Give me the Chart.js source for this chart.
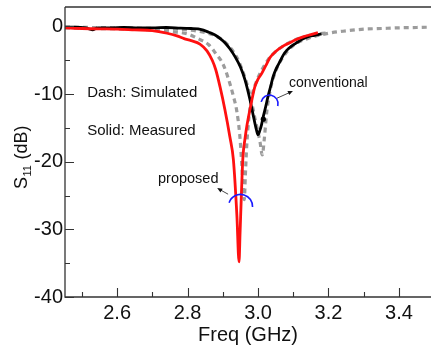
<!DOCTYPE html>
<html>
<head>
<meta charset="utf-8">
<script src="https://cdn.jsdelivr.net/npm/chart.js@4.4.1/dist/chart.umd.min.js"></script>
<style>
html,body{margin:0;padding:0;background:#fff;}
#wrap{width:431px;height:347px;}
</style>
</head>
<body>
<div id="wrap"><canvas id="c" width="431" height="347"></canvas></div>
<script>
// ---- data ----
const freqBlack = [2.452,2.48,2.51,2.53,2.545,2.58,2.62,2.66,2.70,2.74,2.78,2.81,2.83,2.845,2.86,2.878,2.892,2.906,2.92,2.935,2.95,2.963,2.977,2.989,2.996,3.0,3.005,3.01,3.015,3.022,3.028,3.036,3.043,3.052,3.062,3.072,3.082,3.095,3.113,3.128,3.142,3.16,3.18];
const s11Black  = [-0.1,-0.1,-0.2,-0.5,-0.2,-0.2,-0.15,-0.2,-0.2,-0.15,-0.25,-0.3,-0.35,-0.55,-0.85,-1.25,-1.75,-2.4,-3.3,-4.5,-6.0,-7.9,-10.8,-13.8,-15.4,-16.0,-15.4,-14.5,-13.3,-11.8,-10.4,-8.8,-7.4,-6.2,-5.2,-4.2,-3.5,-2.9,-2.3,-1.8,-1.5,-1.3,-1.1];

const freqRed = [2.452,2.5,2.55,2.6,2.65,2.7,2.742,2.77,2.79,2.81,2.835,2.855,2.87,2.88,2.892,2.906,2.92,2.93,2.94,2.946,2.949,2.953,2.957,2.963,2.968,2.977,2.991,3.0,3.011,3.022,3.034,3.05,3.071,3.09,3.11,3.13,3.15,3.17];
const s11Red  = [-0.2,-0.3,-0.35,-0.4,-0.5,-0.6,-1.0,-1.4,-1.8,-2.1,-2.6,-3.6,-5.0,-6.4,-8.9,-12.3,-16.3,-19.7,-28,-34.8,-30.5,-24.5,-19.4,-16.6,-14.8,-12.3,-8.9,-7.8,-6.9,-5.8,-4.6,-3.7,-2.9,-2.4,-1.9,-1.5,-1.2,-0.9];

const freqSimProp = [2.452,2.55,2.65,2.72,2.76,2.8,2.83,2.86,2.88,2.9,2.915,2.93,2.94,2.948,2.954,2.958,2.961,2.964,2.968,2.974,2.982,2.995,3.01,3.03,3.06,3.1,3.15,3.2];
const s11SimProp  = [-0.2,-0.3,-0.4,-0.6,-0.8,-1.1,-1.8,-2.7,-4.0,-5.5,-7.6,-10.3,-12.6,-16,-20.5,-24,-25.6,-22,-17.5,-13.5,-10.5,-8.2,-6.5,-4.8,-3.3,-2.1,-1.3,-0.9];

const freqSimConv = [2.452,2.6,2.7,2.8,2.85,2.88,2.91,2.94,2.965,2.98,2.992,3.0,3.006,3.012,3.018,3.025,3.035,3.05,3.07,3.1,3.14,3.2,3.25,3.3,3.35,3.4,3.45,3.49];
const s11SimConv  = [-0.1,-0.2,-0.3,-0.5,-0.9,-1.4,-2.5,-4.6,-7.9,-10.8,-13.8,-15.6,-17.2,-19.0,-16.5,-12.5,-9.3,-6.6,-4.6,-2.8,-1.8,-1.0,-0.65,-0.4,-0.3,-0.2,-0.15,-0.1];

const xTickValues = [2.5,2.6,2.7,2.8,2.9,3.0,3.1,3.2,3.3,3.4];
const yTickValues = [-40,-35,-30,-25,-20,-15,-10,-5,0];

const markerPoint = [3.015, -13.7];
const arcProposed = [2.9504, -26.6];
const arcConventional = [3.0326, -11.4];

const FONT = "'Liberation Sans', Arial, Helvetica, sans-serif";

function pts(xs, ys){ return xs.map((x,i)=>({x:x, y:ys[i]})); }

const frameAndAnnotations = {
  id: 'frameAndAnnotations',
  afterDatasetsDraw(chart){
    const ctx = chart.ctx, xs = chart.scales.x, ys = chart.scales.y;
    ctx.save();
    // blue arcs
    ctx.strokeStyle = '#1a1aff';
    ctx.lineWidth = 1.6;
    ctx.beginPath();
    ctx.arc(xs.getPixelForValue(arcProposed[0]), ys.getPixelForValue(arcProposed[1]), 12, Math.PI + 0.3, 2*Math.PI + 0.05);
    ctx.stroke();
    ctx.beginPath();
    ctx.arc(xs.getPixelForValue(arcConventional[0]), ys.getPixelForValue(arcConventional[1]), 8.5, Math.PI + 0.2, 2*Math.PI + 0.3);
    ctx.stroke();
    // marker dot
    ctx.fillStyle = '#000';
    ctx.beginPath();
    ctx.arc(xs.getPixelForValue(markerPoint[0]), ys.getPixelForValue(markerPoint[1]), 2.6, 0, 2*Math.PI);
    ctx.fill();
    // arrows
    function arrow(x1,y1,x2,y2){
      const p1x = xs.getPixelForValue(x1), p1y = ys.getPixelForValue(y1);
      const p2x = xs.getPixelForValue(x2), p2y = ys.getPixelForValue(y2);
      const a = Math.atan2(p2y-p1y, p2x-p1x);
      ctx.strokeStyle = '#333'; ctx.lineWidth = 0.9;
      ctx.beginPath(); ctx.moveTo(p1x,p1y); ctx.lineTo(p2x - 3*Math.cos(a), p2y - 3*Math.sin(a)); ctx.stroke();
      ctx.fillStyle = '#111';
      ctx.beginPath();
      ctx.moveTo(p2x,p2y);
      ctx.lineTo(p2x - 5*Math.cos(a) + 2.2*Math.sin(a), p2y - 5*Math.sin(a) - 2.2*Math.cos(a));
      ctx.lineTo(p2x - 5*Math.cos(a) - 2.2*Math.sin(a), p2y - 5*Math.sin(a) + 2.2*Math.cos(a));
      ctx.closePath(); ctx.fill();
    }
    arrow(2.915, -24.8, 2.884, -23.9);
    arrow(3.054, -10.6, 3.099, -9.55);
    // texts
    ctx.fillStyle = '#111';
    ctx.textAlign = 'left';
    ctx.textBaseline = 'alphabetic';
    ctx.font = '15px ' + FONT;
    ctx.fillText('Dash: Simulated', xs.getPixelForValue(2.515), ys.getPixelForValue(-10.4));
    ctx.fillText('Solid: Measured', xs.getPixelForValue(2.515), ys.getPixelForValue(-16.05));
    ctx.font = '14.5px ' + FONT;
    ctx.fillText('proposed', xs.getPixelForValue(2.716), ys.getPixelForValue(-23.15));
    ctx.font = '14px ' + FONT;
    ctx.fillText('conventional', xs.getPixelForValue(3.088), ys.getPixelForValue(-8.95));
    ctx.restore();
  },
  afterDraw(chart){
    const ctx = chart.ctx, xs = chart.scales.x, ys = chart.scales.y;
    const ca = chart.chartArea;
    ctx.save();
    ctx.strokeStyle = '#333';
    ctx.lineWidth = 1.3;
    ctx.beginPath();
    ctx.moveTo(ca.left, ca.top); ctx.lineTo(ca.right, ca.top);
    ctx.moveTo(ca.left, ca.top); ctx.lineTo(ca.left, ca.bottom);
    ctx.lineTo(ca.right, ca.bottom);
    ctx.stroke();
    // inward ticks
    ctx.lineWidth = 1.1;
    ctx.beginPath();
    xTickValues.forEach(v => {
      const px = Math.round(xs.getPixelForValue(v)) + 0.5;
      const major = Math.round(v*10) % 2 === 0;
      ctx.moveTo(px, ca.bottom); ctx.lineTo(px, ca.bottom - (major ? 9 : 5));
    });
    yTickValues.forEach(v => {
      const py = Math.round(ys.getPixelForValue(v)) + 0.5;
      const major = v % 10 === 0;
      ctx.moveTo(ca.left, py); ctx.lineTo(ca.left + (major ? 9 : 5), py);
    });
    ctx.stroke();
    // y title with subscript
    ctx.fillStyle = '#111';
    ctx.translate(27, 189);
    ctx.rotate(-Math.PI/2);
    ctx.textAlign = 'left';
    ctx.textBaseline = 'alphabetic';
    ctx.font = '18px ' + FONT;
    ctx.fillText('S', 0, 0);
    const wS = ctx.measureText('S').width;
    ctx.font = '11px ' + FONT;
    ctx.fillText('11', wS + 0.5, 4);
    const w11 = ctx.measureText('11').width;
    ctx.font = '18px ' + FONT;
    ctx.fillText(' (dB)', wS + w11 + 1, 0);
    ctx.restore();
  }
};

new Chart(document.getElementById('c'), {
  type: 'line',
  data: {
    datasets: [
      { label: 'proposed measured', data: pts(freqRed, s11Red), borderColor: '#ff1010', borderWidth: 2.8, pointRadius: 0, fill: false, cubicInterpolationMode: 'monotone' },
      { label: 'conventional measured', data: pts(freqBlack, s11Black), borderColor: '#000000', borderWidth: 2.8, pointRadius: 0, fill: false, cubicInterpolationMode: 'monotone' },
      { label: 'proposed simulated', data: pts(freqSimProp, s11SimProp), borderColor: '#9c9c9c', borderWidth: 3.2, borderDash: [5,4], pointRadius: 0, fill: false, cubicInterpolationMode: 'monotone' },
      { label: 'conventional simulated', data: pts(freqSimConv, s11SimConv), borderColor: '#9c9c9c', borderWidth: 3.2, borderDash: [5,4], pointRadius: 0, fill: false, cubicInterpolationMode: 'monotone' }
    ]
  },
  options: {
    responsive: false,
    animation: false,
    devicePixelRatio: 1,
    layout: { padding: { top: 7, left: 0, right: 0, bottom: 0 } },
    plugins: { legend: { display: false }, tooltip: { enabled: false } },
    scales: {
      x: {
        type: 'linear', min: 2.452, max: 3.491,
        afterBuildTicks: s => { s.ticks = xTickValues.map(v => ({ value: v })); },
        afterFit: s => { s.height = 50; s.paddingLeft = 0; s.paddingRight = 0; },
        grid: { display: false, drawTicks: false },
        border: { display: false },
        ticks: {
          autoSkip: false, maxRotation: 0, padding: 4, color: '#111',
          font: { family: FONT, size: 20 },
          callback: v => (Math.round(v*10) % 2 === 0 ? Number(v).toFixed(1) : '')
        },
        title: { display: true, text: 'Freq (GHz)', color: '#111', font: { family: FONT, size: 20 }, padding: { top: 0, bottom: 0 } }
      },
      y: {
        type: 'linear', min: -40, max: 2.88,
        afterBuildTicks: s => { s.ticks = yTickValues.map(v => ({ value: v })); },
        afterFit: s => { s.width = 65; s.paddingTop = 0; s.paddingBottom = 0; },
        grid: { display: false, drawTicks: false },
        border: { display: false },
        ticks: {
          autoSkip: false, padding: 2, color: '#111',
          font: { family: FONT, size: 20 },
          callback: v => (v % 10 === 0 ? String(v) : '')
        }
      }
    }
  },
  plugins: [frameAndAnnotations]
});
</script>
</body>
</html>
